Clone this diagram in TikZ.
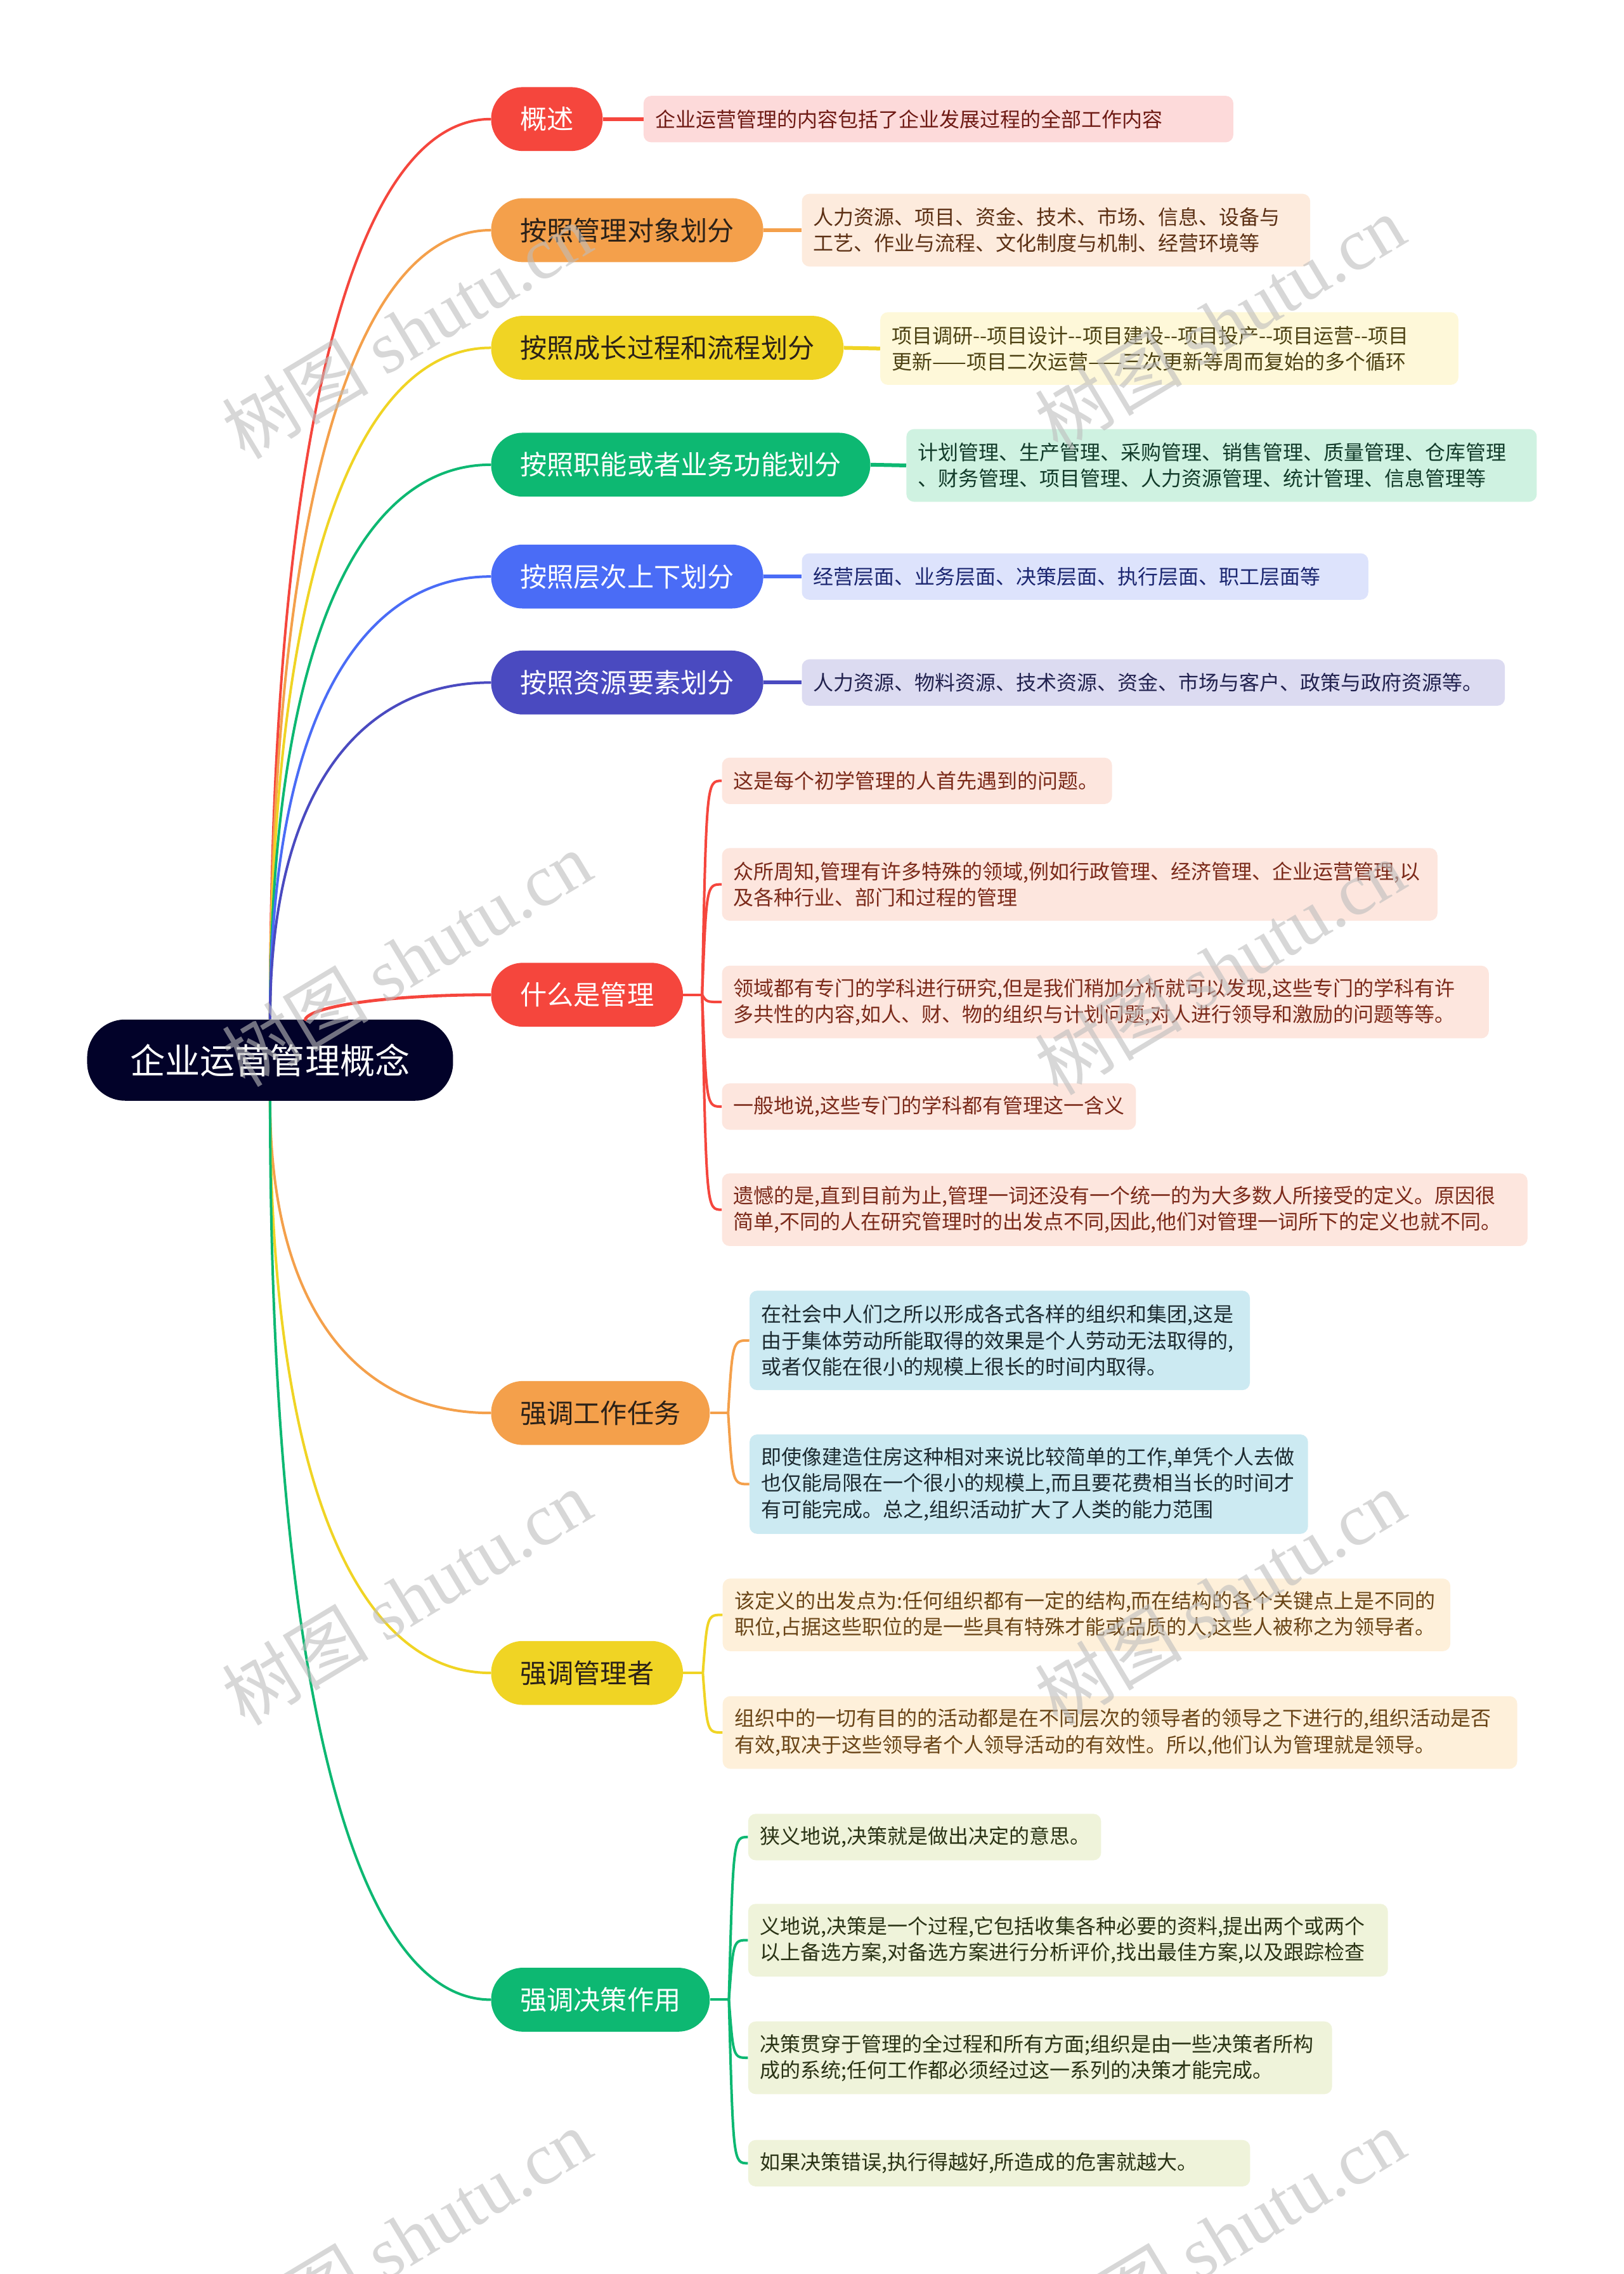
\documentclass[tikz,border=0pt]{standalone}
\usepackage{fontspec}
\setmainfont{Noto Sans CJK SC}[Ligatures=TeXOff]
\newfontfamily\wmlatin{Liberation Serif}
\usetikzlibrary{calc}
\exhyphenpenalty=10000
\hyphenpenalty=10000
\definecolor{rootc}{HTML}{020229}
\definecolor{redc}{HTML}{F5463D}
\definecolor{orangec}{HTML}{F4A04B}
\definecolor{yellowc}{HTML}{F0D424}
\definecolor{greenc}{HTML}{0DB872}
\definecolor{bluec}{HTML}{4A6CF6}
\definecolor{indigoc}{HTML}{4A4AC0}
\definecolor{darkt}{HTML}{2B2118}
\definecolor{f1}{HTML}{FDDADA}\definecolor{t1}{HTML}{6E1A14}
\definecolor{f2}{HTML}{FDEBDD}\definecolor{t2}{HTML}{5C3014}
\definecolor{f3}{HTML}{FEF8D9}\definecolor{t3}{HTML}{4D4213}
\definecolor{f4}{HTML}{CFF2E1}\definecolor{t4}{HTML}{123B2A}
\definecolor{f5}{HTML}{DDE3FC}\definecolor{t5}{HTML}{1B2670}
\definecolor{f6}{HTML}{DCDBF1}\definecolor{t6}{HTML}{22224F}
\definecolor{f7}{HTML}{FDE6DE}\definecolor{t7}{HTML}{7B2A1A}
\definecolor{f8}{HTML}{CCEAF2}\definecolor{t8}{HTML}{1C2A30}
\definecolor{f9}{HTML}{FEF0DA}\definecolor{t9}{HTML}{6A4517}
\definecolor{f10}{HTML}{EFF3DA}\definecolor{t10}{HTML}{2A3315}
\definecolor{wmc}{HTML}{BDBDBD}
\begin{document}
\begin{tikzpicture}[x=1.145pt,y=-1.145pt,
  rootbox/.style={fill=rootc,text=white,font=\fontsize{27.6pt}{32pt}\selectfont,rounded corners=30pt,minimum width=288.5pt,minimum height=64pt,inner sep=0pt},
  branchbox/.style={fill=#1,rounded corners=25pt,minimum height=50.4pt,inner xsep=22.9pt,inner ysep=0pt,anchor=west,font=\fontsize{21.1pt}{24pt}\selectfont},
  leafbox/.style 2 args={fill=#1,text=#2,rounded corners=6pt,inner xsep=9.2pt,inner ysep=0pt,anchor=west,align=left,font=\fontsize{16pt}{20.6pt}\selectfont,minimum height=36.6pt},
  twoline/.style={minimum height=57.3pt},
  threeline/.style={minimum height=78.4pt},
  conn/.style={draw=#1,line width=2pt},
  stub/.style={draw=#1,line width=3pt},
  wm/.style={text=wmc,opacity=0.6,font=\fontsize{58pt}{60pt}\selectfont,rotate=31,inner sep=0pt}
]
\fill[white] (0,0) rectangle (1117.9,1565.9);
\useasboundingbox (0,0) rectangle (1117.9,1565.9);

% root
\node[rootbox] (root) at (186,730) {企业运营管理概念};

% branches
\node[branchbox=redc,text=white] (b1) at (338,82) {概述};
\node[branchbox=orangec,text=darkt] (b2) at (338,158.5) {按照管理对象划分};
\node[branchbox=yellowc,text=darkt] (b3) at (338,239.5) {按照成长过程和流程划分};
\node[branchbox=greenc,text=white] (b4) at (338,320) {按照职能或者业务功能划分};
\node[branchbox=bluec,text=white] (b5) at (338,397) {按照层次上下划分};
\node[branchbox=indigoc,text=white] (b6) at (338,470) {按照资源要素划分};
\node[branchbox=redc,text=white] (b7) at (338,685) {什么是管理};
\node[branchbox=orangec,text=darkt] (b8) at (338,973) {强调工作任务};
\node[branchbox=yellowc,text=darkt] (b9) at (338,1152) {强调管理者};
\node[branchbox=greenc,text=white] (b10) at (338,1377) {强调决策作用};

% leaves of top branches
\node[leafbox={f1}{t1},text width=446.6pt] (l1) at (443,82) {企业运营管理的内容包括了企业发展过程的全部工作内容};
\node[leafbox={f2}{t2},twoline,text width=382.4pt] (l2) at (552,158.5) {人力资源、项目、资金、技术、市场、信息、设备与\\工艺、作业与流程、文化制度与机制、经营环境等};
\node[leafbox={f3}{t3},twoline,text width=437.4pt] (l3) at (606,240) {项目调研--项目设计--项目建设--项目投产--项目运营--项目\\更新——项目二次运营——三次更新等周而复始的多个循环};
\node[leafbox={f4}{t4},twoline,text width=478.6pt] (l4) at (624,320.5) {计划管理、生产管理、采购管理、销售管理、质量管理、仓库管理\\、财务管理、项目管理、人力资源管理、统计管理、信息管理等};
\node[leafbox={f5}{t5},text width=428.2pt] (l5) at (552,397) {经营层面、业务层面、决策层面、执行层面、职工层面等};
\node[leafbox={f6}{t6},text width=535.9pt] (l6) at (552,470) {人力资源、物料资源、技术资源、资金、市场与客户、政策与政府资源等。};

% leaves of 什么是管理
\node[leafbox={f7}{t7},text width=289.1pt] (l7a) at (497,537.7) {这是每个初学管理的人首先遇到的问题。};
\node[leafbox={f7}{t7},twoline,text width=545.7pt] (l7b) at (497,609) {众所周知,管理有许多特殊的领域,例如行政管理、经济管理、企业运营管理,以\\及各种行业、部门和过程的管理};
\node[leafbox={f7}{t7},twoline,text width=586.2pt] (l7c) at (497,690) {领域都有专门的学科进行研究,但是我们稍加分析就可以发现,这些专门的学科有许\\多共性的内容,如人、财、物的组织与计划问题,对人进行领导和激励的问题等等。};
\node[leafbox={f7}{t7},text width=308pt] (l7d) at (497,762) {一般地说,这些专门的学科都有管理这一含义};
\node[leafbox={f7}{t7},twoline,text width=616.7pt] (l7e) at (497,833) {遗憾的是,直到目前为止,管理一词还没有一个统一的为大多数人所接受的定义。原因很\\简单,不同的人在研究管理时的出发点不同,因此,他们对管理一词所下的定义也就不同。};

% leaves of 强调工作任务
\node[leafbox={f8}{t8},threeline,text width=376.1pt] (l8a) at (516,923) {在社会中人们之所以形成各式各样的组织和集团,这是\\由于集体劳动所能取得的效果是个人劳动无法取得的,\\或者仅能在很小的规模上很长的时间内取得。};
\node[leafbox={f8}{t8},threeline,text width=421.9pt] (l8b) at (516,1022) {即使像建造住房这种相对来说比较简单的工作,单凭个人去做\\也仅能局限在一个很小的规模上,而且要花费相当长的时间才\\有可能完成。总之,组织活动扩大了人类的能力范围};

% leaves of 强调管理者
\node[leafbox={f9}{t9},twoline,text width=555.3pt] (l9a) at (497.5,1112) {该定义的出发点为:任何组织都有一定的结构,而在结构的各个关键点上是不同的\\职位,占据这些职位的是一些具有特殊才能或品质的人,这些人被称之为领导者。};
\node[leafbox={f9}{t9},twoline,text width=608pt] (l9b) at (497.5,1193) {组织中的一切有目的的活动都是在不同层次的领导者的领导之下进行的,组织活动是否\\有效,取决于这些领导者个人领导活动的有效性。所以,他们认为管理就是领导。};

% leaves of 强调决策作用
\node[leafbox={f10}{t10},text width=259.9pt] (l10a) at (515,1265) {狭义地说,决策就是做出决定的意思。};
\node[leafbox={f10}{t10},twoline,text width=486pt] (l10b) at (515,1336) {义地说,决策是一个过程,它包括收集各种必要的资料,提出两个或两个\\以上备选方案,对备选方案进行分析评价,找出最佳方案,以及跟踪检查};
\node[leafbox={f10}{t10},twoline,text width=442pt] (l10c) at (515,1417) {决策贯穿于管理的全过程和所有方面;组织是由一些决策者所构\\成的系统;任何工作都必须经过这一系列的决策才能完成。};
\node[leafbox={f10}{t10},text width=377.4pt] (l10d) at (515,1489.6) {如果决策错误,执行得越好,所造成的危害就越大。};

% main connectors (upper)
\foreach \b/\c in {b1/redc,b2/orangec,b3/yellowc,b4/greenc,b5/bluec,b6/indigoc}
  \draw[conn=\c] (root.north) .. controls ($(root.north)!0.65!(root.north |- \b.west)$) and ($(\b.west)!0.62!(root.north |- \b.west)$) .. (\b.west);
% main connectors (lower)
\foreach \b/\c in {b8/orangec,b9/yellowc,b10/greenc}
  \draw[conn=\c] (root.south) .. controls ($(root.south)!0.65!(root.south |- \b.west)$) and ($(\b.west)!0.62!(root.south |- \b.west)$) .. (\b.west);
% 什么是管理
\coordinate (rq) at ($(root.north)+(24,1)$);
\draw[conn=redc,line width=2.4pt] (rq) .. controls ($(rq)!0.5!(rq |- b7.west)$) and ($(b7.west)!0.6!(rq |- b7.west)$) .. (b7.west);

% stubs to top leaves
\draw[stub=redc] (b1.east) -- (l1.west);
\draw[stub=orangec] (b2.east) -- (l2.west);
\draw[stub=yellowc] (b3.east) -- (l3.west);
\draw[stub=greenc] (b4.east) -- (l4.west);
\draw[stub=bluec] (b5.east) -- (l5.west);
\draw[stub=indigoc] (b6.east) -- (l6.west);

% grouped leaf connectors
\coordinate (s7) at ($(b7.east)+(13,0)$);
\draw[conn=redc] (b7.east) -- (s7);
\foreach \l in {l7a,l7b,l7c,l7d,l7e}
  \draw[conn=redc] (s7) .. controls ($(s7 |- \l.west)+(3,0)$) and ($(s7 |- \l.west)+(3,0)$) .. (\l.west);
\coordinate (s8) at ($(b8.east)+(12.5,0)$);
\draw[conn=orangec] (b8.east) -- (s8);
\foreach \l in {l8a,l8b}
  \draw[conn=orangec] (s8) .. controls ($(s8 |- \l.west)+(3,0)$) and ($(s8 |- \l.west)+(3,0)$) .. (\l.west);
\coordinate (s9) at ($(b9.east)+(13.5,0)$);
\draw[conn=yellowc] (b9.east) -- (s9);
\foreach \l in {l9a,l9b}
  \draw[conn=yellowc] (s9) .. controls ($(s9 |- \l.west)+(3,0)$) and ($(s9 |- \l.west)+(3,0)$) .. (\l.west);
\coordinate (s10) at ($(b10.east)+(13,0)$);
\draw[conn=greenc] (b10.east) -- (s10);
\foreach \l in {l10a,l10b,l10c,l10d}
  \draw[conn=greenc] (s10) .. controls ($(s10 |- \l.west)+(3,0)$) and ($(s10 |- \l.west)+(3,0)$) .. (\l.west);

% watermarks
\foreach \p [count=\i] in {(280,228),(840,222),(280,660),(840,666),(280,1100),(840,1100),(280,1540),(840,1540)}
  \node[wm] (wm\i) at \p {树图 {\wmlatin shutu.cn}};
\end{tikzpicture}
\end{document}
